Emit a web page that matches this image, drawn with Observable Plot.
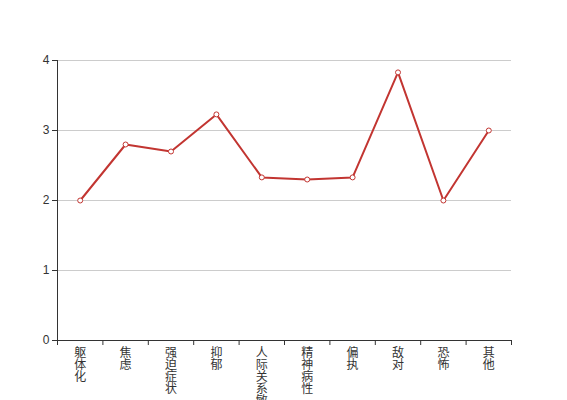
<!DOCTYPE html>
<html>
<head>
<meta charset="utf-8">
<script src="https://cdn.jsdelivr.net/npm/d3@7"></script>
<script src="https://cdn.jsdelivr.net/npm/@observablehq/plot@0.6"></script>
<style>
  html, body { margin: 0; padding: 0; background: #fff; }
  #chart svg { display: block; }
</style>
</head>
<body>
<div id="chart"></div>
<script>
const categories = ["躯体化", "焦虑", "强迫症状", "抑郁", "人际关系敏感", "精神病性", "偏执", "敌对", "恐怖", "其他"];
const values = [2.0, 2.8, 2.7, 3.23, 2.33, 2.3, 2.33, 3.83, 2.0, 3.0];
const yTicks = [0, 1, 2, 3, 4];

const data = categories.map((c, i) => ({ name: c, pos: i + 0.5, value: values[i] }));
const boundaries = d3.range(categories.length + 1);
const centers = categories.map((c, i) => i + 0.5);
const red = "#c23531";
const font = "'Liberation Sans', 'Noto Sans CJK SC', sans-serif";

const chart = Plot.plot({
  width: 567,
  height: 400,
  marginLeft: 57,
  marginRight: 56,
  marginTop: 60,
  marginBottom: 60,
  style: { fontFamily: font, fontSize: "12px", color: "#333", background: "#fff" },
  x: { domain: [0, categories.length], axis: null },
  y: { domain: [0, 4], axis: null },
  marks: [
    Plot.ruleY(yTicks.filter(d => d > 0), { stroke: "#ccc", strokeWidth: 1 }),
    Plot.axisY({ ticks: yTicks, tickSize: 5, tickPadding: 3, label: null, tickFormat: d => String(d), fontSize: 12, fill: "#333", stroke: "#333" }),
    Plot.ruleX([0], { stroke: "#333", strokeWidth: 1 }),
    Plot.ruleY([0], { stroke: "#333", strokeWidth: 1 }),
    Plot.axisX({ ticks: boundaries, tickSize: 5, label: null, tickFormat: () => "", stroke: "#333" }),
    Plot.axisX({ ticks: centers, tickSize: 0, tickPadding: 8, label: null, fontSize: 12, lineHeight: 1, fill: "#333",
      fontFamily: "'Noto Sans CJK SC', sans-serif",
      tickFormat: d => categories[Math.floor(d)].split("").join("\n") }),
    Plot.line(data, { x: "pos", y: "value", stroke: red, strokeWidth: 2 }),
    Plot.dot(data, { x: "pos", y: "value", r: 2.5, fill: "#fff", stroke: red, strokeWidth: 1 })
  ]
});
document.getElementById("chart").appendChild(chart);
</script>
</body>
</html>
